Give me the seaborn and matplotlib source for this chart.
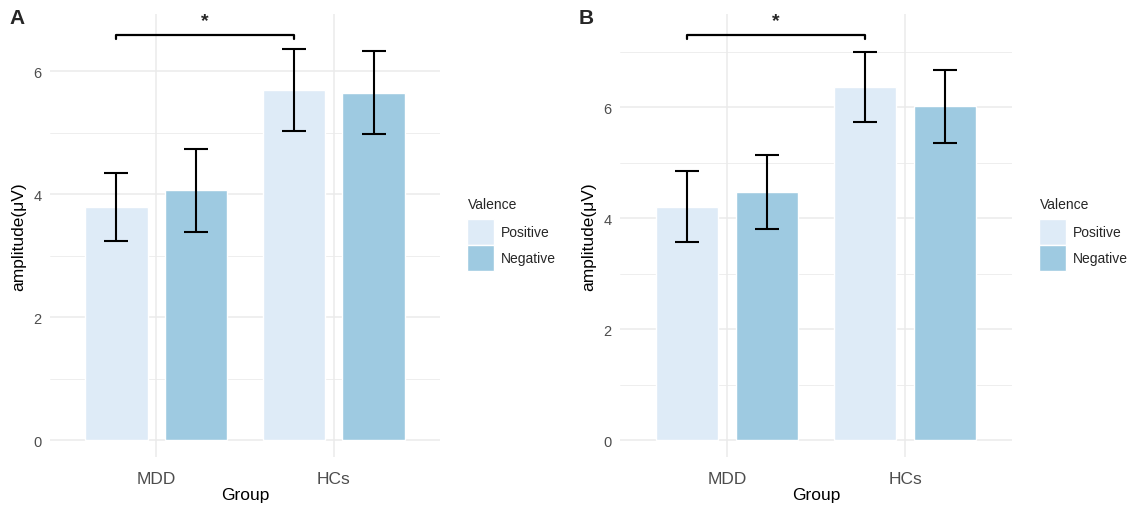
import matplotlib
matplotlib.use("Agg")
import matplotlib.pyplot as plt
from matplotlib.patches import Patch
import seaborn as sns
import pandas as pd

# data
groups = ["MDD", "HCs"]
valences = ["Positive", "Negative"]

# panel A
a_pos_mean = [3.79, 5.69]
a_pos_lo = [3.24, 5.02]
a_pos_hi = [4.34, 6.36]
a_neg_mean = [4.07, 5.64]
a_neg_lo = [3.38, 4.98]
a_neg_hi = [4.73, 6.33]

# panel B
b_pos_mean = [4.20, 6.36]
b_pos_lo = [3.57, 5.73]
b_pos_hi = [4.85, 6.99]
b_neg_mean = [4.47, 6.02]
b_neg_lo = [3.80, 5.35]
b_neg_hi = [5.14, 6.67]

sig_y = {"A": 6.59, "B": 7.30}
colors = {"Positive": "#DEEBF7", "Negative": "#9ECAE1"}

sns.set_theme(style="white")
plt.rcParams["font.family"] = ["Liberation Sans", "DejaVu Sans"]

W, H = 1130, 506
fig = plt.figure(figsize=(W / 100, H / 100), dpi=100)


def make_df(pm, pl, ph, nm, nl, nh):
    rows = []
    for i, g in enumerate(groups):
        rows.append(dict(Group=g, Valence="Positive", amp=pm[i], lo=pl[i], hi=ph[i]))
        rows.append(dict(Group=g, Valence="Negative", amp=nm[i], lo=nl[i], hi=nh[i]))
    return pd.DataFrame(rows)


def panel(rect, df, ylim, ticks, minor, letter, sy):
    l, r, t, b = rect
    ax = fig.add_axes([l / W, 1 - b / H, (r - l) / W, (b - t) / H])
    # grid
    for v in ticks:
        ax.axhline(v, color="#EBEBEB", lw=1.1, zorder=0)
    for v in minor:
        ax.axhline(v, color="#EBEBEB", lw=0.6, zorder=0)
    for v in range(len(groups)):
        ax.axvline(v, color="#EBEBEB", lw=1.1, zorder=0)

    sns.barplot(data=df, x="Group", y="amp", hue="Valence", order=groups,
                hue_order=valences, palette=colors, width=0.9, gap=0.22,
                errorbar=None, ax=ax, zorder=2, saturation=1, legend=False)

    # error bars at the bar centres
    for patch_group, val in zip([ax.patches[:2], ax.patches[2:4]], valences):
        sub = df[df["Valence"] == val].set_index("Group").loc[groups]
        xs = [p.get_x() + p.get_width() / 2 for p in patch_group]
        ax.errorbar(xs, sub["amp"], yerr=[sub["amp"] - sub["lo"], sub["hi"] - sub["amp"]],
                    fmt="none", ecolor="black", elinewidth=1.5, capsize=8.5,
                    capthick=1.5, zorder=3)

    # significance bracket between the two Positive bars
    p0 = ax.patches[0]
    p1 = ax.patches[1]
    x0 = p0.get_x() + p0.get_width() / 2
    x1 = p1.get_x() + p1.get_width() / 2
    ax.plot([x0, x0, x1, x1], [sy - 0.07, sy, sy, sy - 0.07], color="black",
            lw=1.6, zorder=3, clip_on=False)
    ax.text((x0 + x1) / 2, sy + 0.1, "*", ha="center", va="bottom",
            fontsize=14, fontweight="bold")

    ax.set_xlim(-0.6, 1.6)
    ax.set_ylim(*ylim)
    ax.set_yticks(ticks)
    ax.set_yticklabels([str(v) for v in ticks])
    for s in ax.spines.values():
        s.set_visible(False)
    ax.tick_params(axis="both", length=0, colors="#4D4D4D")
    ax.tick_params(axis="x", labelsize=12.5, pad=10)
    ax.tick_params(axis="y", labelsize=10.5, pad=6)
    ax.set_xlabel("Group", fontsize=12.5, color="black", labelpad=1)
    ax.set_ylabel("amplitude(\u03bcV)", fontsize=12.5, color="black", labelpad=5)

    # legend: title as text, keys below it
    handles = [Patch(facecolor=colors[v], edgecolor="white", linewidth=1) for v in valences]
    fig.legend(handles, valences, loc="upper left",
               bbox_to_anchor=((r + 27) / W, 1 - 220 / H), frameon=False,
               fontsize=10, handlelength=1.95,
               handleheight=2.5, labelspacing=0.0, handletextpad=0.5,
               borderaxespad=0, borderpad=0)
    fig.text((r + 28) / W, 1 - 205 / H, "Valence", fontsize=10, va="center",
             ha="left")
    fig.text((l - 41) / W, 1 - 19 / H, letter, fontsize=15, fontweight="bold",
             va="center", ha="left")
    return ax


dfa = make_df(a_pos_mean, a_pos_lo, a_pos_hi, a_neg_mean, a_neg_lo, a_neg_hi)
dfb = make_df(b_pos_mean, b_pos_lo, b_pos_hi, b_neg_mean, b_neg_lo, b_neg_hi)

panel((50, 440, 15, 458), dfa, (-0.276, 6.93), [0, 2, 4, 6], [1, 3, 5], "A", sig_y["A"])
panel((620, 1012, 15, 458), dfb, (-0.306, 7.68), [0, 2, 4, 6], [1, 3, 5, 7], "B", sig_y["B"])

fig.savefig("out.png", dpi=100)
